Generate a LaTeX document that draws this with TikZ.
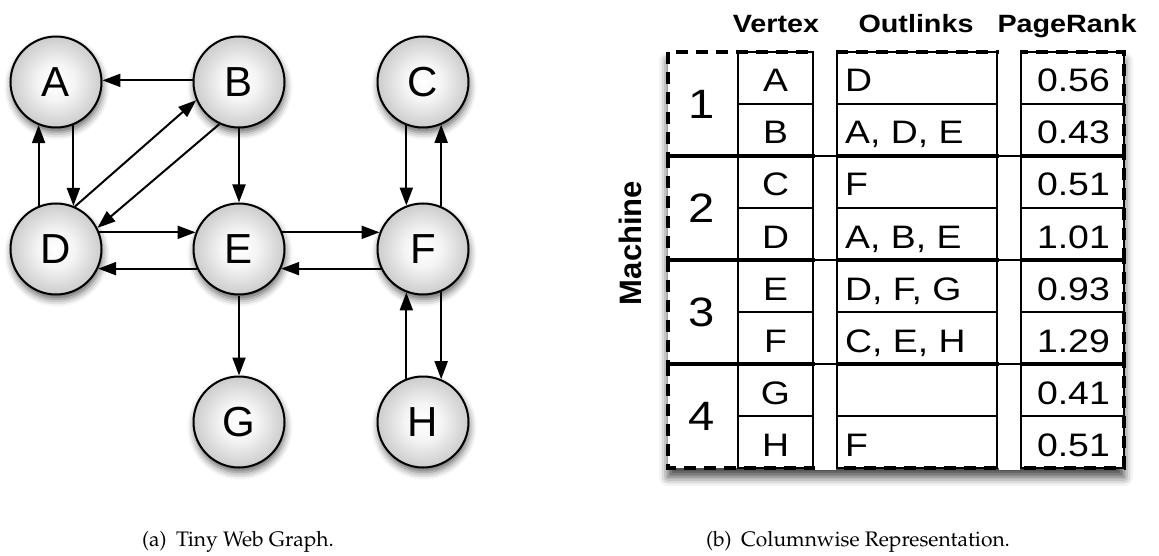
\documentclass[tikz,border=0pt]{standalone}
\usepackage[T1]{fontenc}
\usepackage{fontspec}
\setmainfont{Liberation Sans}
\newfontfamily\tabfont[FakeStretch=1.15]{Liberation Sans}
\newcommand\capfont{\fontencoding{T1}\fontfamily{ppl}\selectfont}
\usetikzlibrary{arrows.meta,shadows.blur}

% soft grey bubble for the graph vertices
\pgfdeclareradialshading{bubble}{\pgfpoint{0bp}{0bp}}{%
  color(0bp)=(white); color(10bp)=(white!96!black);
  color(25bp)=(white!80!black); color(50bp)=(white!80!black)}

\tikzset{
  vtx/.style={circle, draw, line width=2pt, minimum size=91pt, inner sep=0pt,
    shading=bubble,
    blur shadow={shadow xshift=1pt, shadow yshift=-5pt, shadow blur radius=7pt, shadow opacity=60},
    font=\fontsize{42}{46}\selectfont},
  edge/.style={line width=2pt, -{Triangle[length=18pt,width=13pt]}},
  grid/.style={line width=2pt},
  mach/.style={line width=3.5pt, dash pattern=on 12pt off 8pt},
  cell/.style={inner sep=0pt, font=\tabfont\fontsize{32.5}{36}\selectfont},
  mnum/.style={inner sep=0pt, font=\tabfont\fontsize{41}{44}\selectfont},
  head/.style={inner sep=0pt, font=\tabfont\bfseries\fontsize{25}{30}\selectfont},
  capt/.style={inner sep=0pt, font=\capfont\fontsize{21}{25}\selectfont}
}

\begin{document}
\begin{tikzpicture}[x=1pt,y=-1pt]
\useasboundingbox (0,0) rectangle (1159,556);

% ---------------- tiny web graph ----------------
\node[vtx] (A) at (56,82)   {A};
\node[vtx] (B) at (239,82)  {B};
\node[vtx] (C) at (423,82)  {C};
\node[vtx] (D) at (56,249)  {D};
\node[vtx] (E) at (239,249) {E};
\node[vtx] (F) at (423,249) {F};
\node[vtx] (G) at (239,422) {G};
\node[vtx] (H) at (423,422) {H};

\draw[edge] (B.178)  -- (A.2);
\draw[edge] (A.-68)  -- (D.68);
\draw[edge] (D.112)  -- (A.-112);
\draw[edge] (D.66)   -- (B.203);
\draw[edge] (B.245)  -- (D.27);
\draw[edge] (B.south) -- (E.north);
\draw[edge] (D.21)   -- (E.159);
\draw[edge] (E.-155) -- (D.-25);
\draw[edge] (E.21)   -- (F.159);
\draw[edge] (F.-155) -- (E.-25);
\draw[edge] (C.-111) -- (F.111);
\draw[edge] (F.67)   -- (C.-67);
\draw[edge] (E.south) -- (G.north);
\draw[edge] (H.111)  -- (F.-111);
\draw[edge] (F.-67)  -- (H.67);

% ---------------- columnwise table ----------------
% paper with shadow under the whole table
\fill[white, blur shadow={shadow xshift=0pt, shadow yshift=-9pt, shadow blur radius=9pt, shadow opacity=75}]
  (668,52) rectangle (1124,468);

% solid cell grids of the three columns
\foreach \xa/\xb in {738/813, 837/997, 1021/1124} {
  \draw[grid] (\xa,52) rectangle (\xb,468);
  \foreach \k in {1,...,7} \draw[grid] (\xa,{52+52*\k}) -- (\xb,{52+52*\k});
}

% dashed machine partitions
\foreach \k in {0,...,3}
  \draw[mach] (668,{52+104*\k}) rectangle (1124,{156+104*\k});

% clear the gaps between the columns
\fill[white] (814.5,50) rectangle (835.5,470);
\fill[white] (998.5,50) rectangle (1019.5,470);
\foreach \y in {156,260,364} {
  \draw[grid] (813,\y) -- (837,\y);
  \draw[grid] (997,\y) -- (1021,\y);
}

% headers
\node[head, anchor=base] (hv) at (776,33)  {Vertex};
\node[head, anchor=base] (ho) at (916,33)  {Outlinks};
\node[head, anchor=base] (hp) at (1067,33) {PageRank};
\node[inner sep=0pt, rotate=90, font=\bfseries\fontsize{31}{34}\selectfont] (lbl) at (630,243) {Machine};

% machine numbers
\foreach \m [count=\i from 0] in {1,2,3,4}
  \node[mnum] (m\m) at (702,{104+104*\i}) {\m};

% vertex column
\foreach \v [count=\i from 0] in {A,B,C,D,E,F,G,H}
  \node[cell, anchor=base] (v\i) at (775.5,{92+52*\i}) {\v};

% outlinks column
\foreach \o [count=\i from 0] in {{D},{A, D, E},{F},{A, B, E},{D, F, G},{C, E, H},{},{F}}
  \node[cell, anchor=base west] (o\i) at (845,{92+52*\i}) {\o};

% pagerank column
\foreach \p [count=\i from 0] in {0.56,0.43,0.51,1.01,0.93,1.29,0.41,0.51}
  \node[cell, anchor=base east] (p\i) at (1110,{92+52*\i}) {\p};

% captions
\node[capt, anchor=base] (capa) at (238,546) {(a)\hspace{0.45em}Tiny Web Graph.};
\node[capt, anchor=base] (capb) at (858,546) {(b)\hspace{0.45em}Columnwise Representation.};
\end{tikzpicture}
\end{document}
